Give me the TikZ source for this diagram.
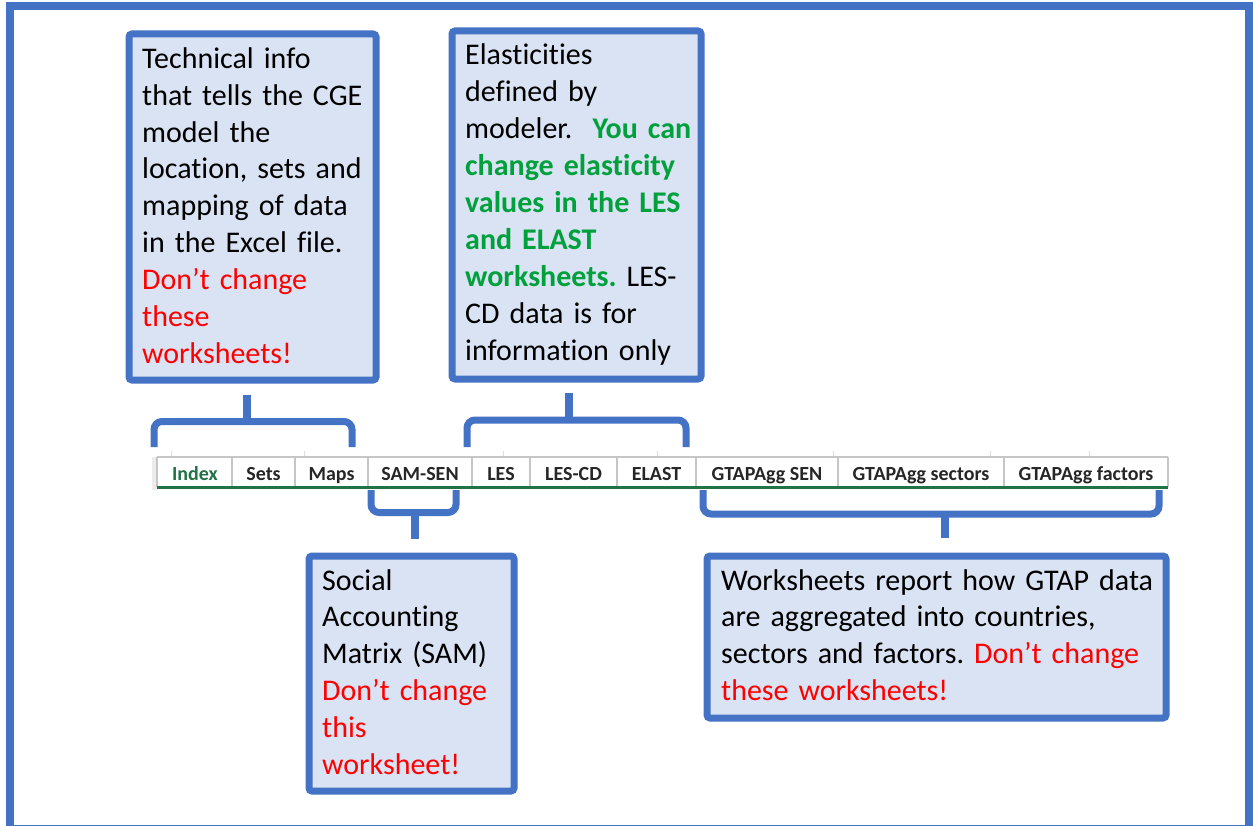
\documentclass[tikz,border=0pt]{standalone}
\usepackage{fontspec}
\setmainfont{Carlito}[Ligatures=NoCommon]
\frenchspacing
\definecolor{frameblue}{HTML}{4472C4}
\definecolor{boxfill}{HTML}{DAE3F3}
\definecolor{warnred}{HTML}{FF0000}
\definecolor{okgreen}{RGB}{0,160,60}
\definecolor{xlgreen}{HTML}{217346}
\definecolor{tabgray}{HTML}{C6C6C6}
\definecolor{tabtext}{HTML}{262626}
\tikzset{
  infobox/.style={draw=frameblue, fill=boxfill, line width=7pt, rounded corners=3pt, inner sep=0pt},
  infotext/.style={anchor=base west, inner sep=0pt, text width=460pt, align=left,
    font=\fontsize{30pt}{36.9pt}\selectfont},
  brace/.style={draw=frameblue, line width=7pt, rounded corners=8pt},
  stem/.style={draw=frameblue, line width=8pt},
  tabsep/.style={draw=tabgray, line width=1.3pt},
  tablabel/.style={anchor=base, inner sep=0pt, text=tabtext, font=\fontsize{20pt}{23pt}\selectfont\bfseries},
}
\newcommand{\warn}[1]{\textcolor{warnred}{#1}}
\newcommand{\okay}[1]{\textcolor{okgreen}{\bfseries #1}}
\begin{document}
\begin{tikzpicture}[x=1pt,y=-1pt]
\useasboundingbox (0,0) rectangle (1253,826);
\clip (0,0) rectangle (1253,826);
\fill[white] (0,0) rectangle (1253,826);
% outer frame
\draw[draw=frameblue, line width=8pt] (10,6) rectangle (1248.5,829);

% boxes
\node[infobox, minimum width=247pt, minimum height=346pt] (b1) at (252.5,207) {};
\node[infobox, minimum width=249pt, minimum height=348pt] (b2) at (576.5,205) {};
\node[infobox, minimum width=205pt, minimum height=235pt] (b3) at (411.5,673.5) {};
\node[infobox, minimum width=459pt, minimum height=162pt] (b4) at (936.5,637) {};

\node[infotext] (t1) at (142,68.3) {Technical info\\that tells the CGE\\model the\\location, sets and\\mapping of data\\in the Excel file.\\\warn{Don’t change}\\\warn{these}\\\warn{worksheets!}};
\node[infotext] (t2) at (465,65) {Elasticities\\defined by\\modeler.\ \ \okay{You can}\\\okay{change elasticity}\\\okay{values in the LES}\\\okay{and ELAST}\\\okay{worksheets.} LES-\\CD data is for\\information only};
\node[infotext] (t3) at (322,590) {Social\\Accounting\\Matrix (SAM)\\\warn{Don’t change}\\\warn{this}\\\warn{worksheet!}};
\node[infotext] (t4) at (721,590) {Worksheets report how GTAP data\\are aggregated into countries,\\sectors and factors. \warn{Don’t change}\\\warn{these worksheets!}};

% tab bar
\fill[gray!15] (152,457) rectangle (157,490);
\foreach \tx in {171,304,503,657,833,990,1089}
  \draw[draw=tabgray!60, line width=1pt] (\tx,451) -- (\tx,457);
\draw[tabsep] (157,457) -- (1168,457);
\foreach \tx in {157,232,295,368,472,530,617,696,838,1004,1168}
  \draw[tabsep] (\tx,457) -- (\tx,487);
\draw[draw=xlgreen, line width=2.5pt] (157,487.5) -- (1168,487.5);

\node[tablabel, text=xlgreen] (tIndex) at (195,480) {Index};
\node[tablabel] (tSets) at (263.5,480) {Sets};
\node[tablabel] (tMaps) at (331.5,480) {Maps};
\node[tablabel] (tSam) at (420,480) {SAM-SEN};
\node[tablabel] (tLes) at (501,480) {LES};
\node[tablabel] (tLescd) at (573.5,480) {LES-CD};
\node[tablabel] (tElast) at (656.5,480) {ELAST};
\node[tablabel] (tGsen) at (767,480) {GTAPAgg SEN};
\node[tablabel] (tGsec) at (921,480) {GTAPAgg sectors};
\node[tablabel] (tGfac) at (1086,480) {GTAPAgg factors};

% braces
\coordinate (c1a) at (154,447); \coordinate (c1b) at (352,447);
\coordinate (c1m) at (247,421.5); \coordinate (c1t) at (247,395);
\draw[brace] (c1a) |- (c1m) -| (c1b);
\draw[stem] (c1m) -- (c1t);

\coordinate (c2a) at (467,447); \coordinate (c2b) at (686,447);
\coordinate (c2m) at (569,420); \coordinate (c2t) at (569,393);
\draw[brace] (c2a) |- (c2m) -| (c2b);
\draw[stem] (c2m) -- (c2t);

\coordinate (c3a) at (371,490); \coordinate (c3b) at (456,490);
\coordinate (c3m) at (415,512.5); \coordinate (c3t) at (415,539);
\draw[brace] (c3a) |- (c3m) -| (c3b);
\draw[stem] (c3m) -- (c3t);

\coordinate (c4a) at (703,490); \coordinate (c4b) at (1159,490);
\coordinate (c4m) at (945,514); \coordinate (c4t) at (945,538);
\draw[brace] (c4a) |- (c4m) -| (c4b);
\draw[stem] (c4m) -- (c4t);
\end{tikzpicture}
\end{document}
